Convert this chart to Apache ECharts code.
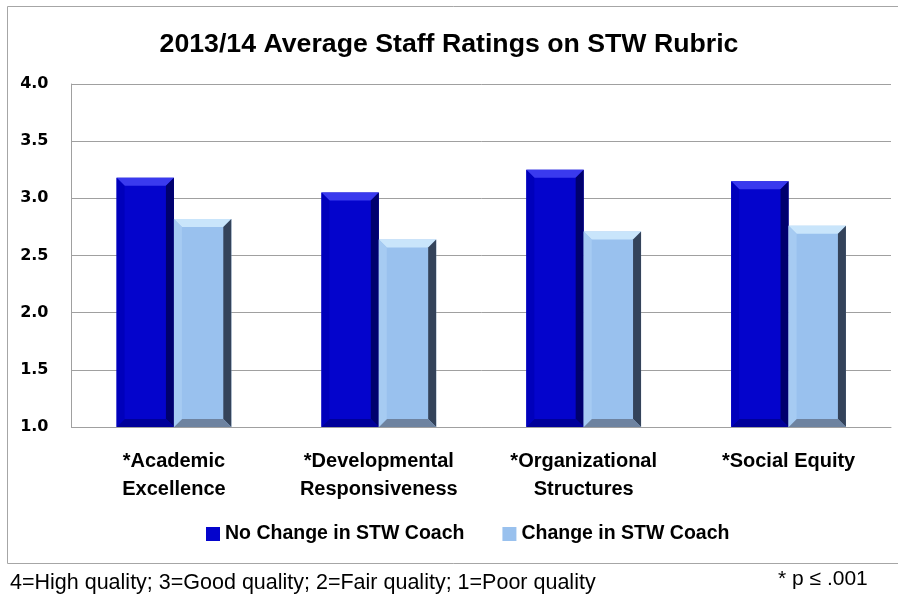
<!DOCTYPE html>
<html>
<head>
<meta charset="utf-8">
<script src="https://cdn.jsdelivr.net/npm/echarts@6/dist/echarts.min.js"></script>
<style>
  html, body { margin: 0; padding: 0; background: #fff; }
  #chart { width: 898px; height: 596px; }
</style>
</head>
<body>
<div id="chart"></div>
<script>
// Values
const categories = ['*Academic\nExcellence', '*Developmental\nResponsiveness', '*Organizational\nStructures', '*Social Equity'];
const noChange = [3.18, 3.05, 3.25, 3.15];
const changed = [2.82, 2.64, 2.71, 2.76];
const seriesNames = ['No Change in STW Coach', 'Change in STW Coach'];
const yTicks = { min: 1, max: 4, interval: 0.5 };

const sans = '"Liberation Sans", Arial, sans-serif';

// Face / bevel colours for each series
const palettes = [
  { face: '#0404cc', top: '#3a3aee', right: '#00006e', bottom: '#00009a', left: '#0000bb' },
  { face: '#99c1ee', top: '#c9e5fb', right: '#34435a', bottom: '#6e83a0', left: '#a6cbf2' }
];

// Bevelled bar, positioned through the category / value scales
function bevelBar(side, pal) {
  return function (params, api) {
    const idx = api.value(0);
    const top = api.coord([idx, api.value(1)]);
    const base = api.coord([idx, yTicks.min]);
    const band = api.size([1, 0])[0];
    const w = band * 0.28;
    const x0 = side < 0 ? top[0] - w : top[0];
    const x1 = x0 + w;
    const y0 = top[1];
    const y1 = base[1];
    const b = 8;
    const poly = (pts, fill) => ({ type: 'polygon', shape: { points: pts }, style: { fill: fill }, silent: true });
    return {
      type: 'group',
      children: [
        { type: 'rect', shape: { x: x0, y: y0, width: w, height: y1 - y0 }, style: { fill: pal.face } },
        poly([[x0, y0], [x1, y0], [x1 - b, y0 + b], [x0 + b, y0 + b]], pal.top),
        poly([[x1, y0], [x1, y1], [x1 - b, y1 - b], [x1 - b, y0 + b]], pal.right),
        poly([[x0, y1], [x1, y1], [x1 - b, y1 - b], [x0 + b, y1 - b]], pal.bottom),
        poly([[x0, y0], [x0 + b, y0 + b], [x0 + b, y1 - b], [x0, y1]], pal.left)
      ]
    };
  };
}

const chart = echarts.init(document.getElementById('chart'), null, { renderer: 'canvas' });

chart.setOption({
  animation: false,
  backgroundColor: '#fff',
  title: {
    text: '2013/14 Average Staff Ratings on STW Rubric',
    left: 'center',
    top: 26,
    textStyle: { fontFamily: sans, fontWeight: 'bold', fontSize: 26.7, color: '#000' }
  },
  grid: { left: 71.5, right: 7, top: 84, bottom: 169 },
  legend: {
    data: seriesNames,
    left: 201,
    top: 519,
    itemWidth: 14,
    itemHeight: 14,
    itemGap: 38,
    icon: 'rect',
    textStyle: { fontFamily: sans, fontWeight: 'bold', fontSize: 19.5, color: '#000' }
  },
  xAxis: {
    type: 'category',
    data: categories,
    axisLine: { lineStyle: { color: '#a0a0a0' } },
    axisTick: { show: false },
    axisLabel: {
      interval: 0,
      margin: 20,
      lineHeight: 28,
      fontFamily: sans,
      fontWeight: 'bold',
      fontSize: 20,
      color: '#000'
    }
  },
  yAxis: {
    type: 'value',
    min: yTicks.min,
    max: yTicks.max,
    interval: yTicks.interval,
    axisLine: { show: true, lineStyle: { color: '#a0a0a0' } },
    axisTick: { show: false },
    splitLine: { lineStyle: { color: '#a0a0a0' } },
    axisLabel: {
      margin: 23,
      fontFamily: '"DejaVu Sans", sans-serif',
      fontWeight: 'bold',
      fontSize: 16,
      color: '#000',
      formatter: v => v.toFixed(1)
    }
  },
  series: [
    {
      name: seriesNames[0],
      type: 'custom',
      renderItem: bevelBar(-1, palettes[0]),
      itemStyle: { color: palettes[0].face },
      encode: { x: 0, y: 1 },
      data: noChange.map((v, i) => [i, v])
    },
    {
      name: seriesNames[1],
      type: 'custom',
      renderItem: bevelBar(1, palettes[1]),
      itemStyle: { color: palettes[1].face },
      encode: { x: 0, y: 1 },
      data: changed.map((v, i) => [i, v])
    }
  ],
  graphic: [
    {
      type: 'rect',
      silent: true,
      shape: { x: 7.5, y: 6.5, width: 900, height: 557 },
      style: { fill: 'none', stroke: '#a6a6a6', lineWidth: 1 }
    },
    {
      type: 'text',
      left: 10,
      top: 572,
      style: { text: '4=High quality; 3=Good quality; 2=Fair quality; 1=Poor quality', fontFamily: sans, fontSize: 21.5, fill: '#000' }
    },
    {
      type: 'text',
      left: 778,
      top: 569,
      style: { text: '* p \u2264 .001', fontFamily: sans, fontSize: 21, fill: '#000' }
    }
  ]
});
</script>
</body>
</html>
